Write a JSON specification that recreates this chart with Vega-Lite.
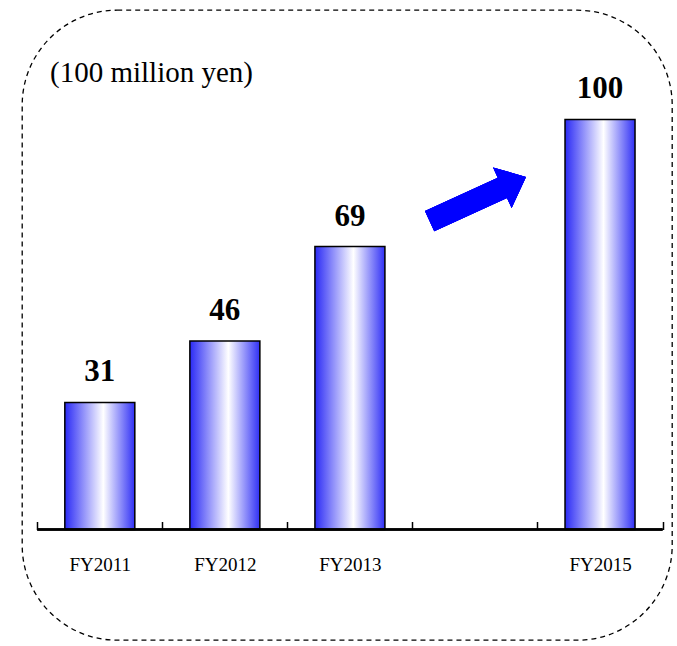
{
  "$schema": "https://vega.github.io/schema/vega-lite/v6.json",
  "width": 650,
  "height": 630,
  "autosize": {"type": "none"},
  "padding": {"left": 22, "top": 10, "right": 5, "bottom": 6},
  "background": "white",
  "config": {
    "view": {"stroke": "#000000", "strokeWidth": 1.3, "strokeDash": [5, 4], "cornerRadius": 95, "fill": "white"},
    "font": "Liberation Serif",
    "title": {"font": "Liberation Serif", "fontWeight": "normal"}
  },
  "title": {
    "text": "(100 million yen)",
    "anchor": "start",
    "frame": "group",
    "orient": "top",
    "baseline": "alphabetic",
    "offset": -101,
    "dx": 28,
    "font": "Liberation Serif",
    "fontSize": 29,
    "fontWeight": "normal",
    "color": "#000000"
  },
  "data": {
    "values": [
      {"year": 2011, "sales": 31},
      {"year": 2012, "sales": 46},
      {"year": 2013, "sales": 69},
      {"year": 2015, "sales": 100}
    ]
  },
  "resolve": {"axis": {"x": "independent"}},
  "layer": [
    {
      "mark": {
        "type": "bar",
        "size": 70,
        "stroke": "#000000",
        "strokeWidth": 1.5,
        "fill": {
          "gradient": "linear",
          "x1": 0, "x2": 1, "y1": 0, "y2": 0,
          "stops": [
            {"offset": 0, "color": "#2a2af5"},
            {"offset": 0.55, "color": "#ffffff"},
            {"offset": 1, "color": "#3030f5"}
          ]
        }
      },
      "encoding": {
        "x": {
          "field": "year",
          "type": "quantitative",
          "scale": {"domain": [2010.3777, 2015.5756], "nice": false, "zero": false, "padding": 0},
          "axis": {
            "orient": "bottom",
            "values": [2011, 2012, 2013, 2015],
            "labelExpr": "'FY' + datum.value",
            "title": null,
            "domain": false,
            "ticks": false,
            "grid": false,
            "offset": -110.5,
            "labelPadding": 41,
            "labelBaseline": "alphabetic",
            "labelFont": "Liberation Serif",
            "labelFontSize": 19,
            "labelColor": "#000000",
            "labelFlush": false
          }
        },
        "y": {
          "field": "sales",
          "type": "quantitative",
          "scale": {"domain": [-26.95, 126.7], "nice": false, "zero": false},
          "axis": null
        },
        "y2": {"datum": 0}
      }
    },
    {
      "mark": {"type": "rule", "color": "#000000", "strokeWidth": 2},
      "encoding": {
        "x": {
          "datum": 2010.5,
          "type": "quantitative",
          "axis": {
            "orient": "bottom",
            "values": [2010.5, 2011.5, 2012.5, 2013.5, 2014.5, 2015.5],
            "title": null,
            "labels": false,
            "domain": false,
            "grid": false,
            "ticks": true,
            "tickSize": -8,
            "tickWidth": 1.5,
            "tickColor": "#000000",
            "offset": -110.5
          }
        },
        "x2": {"datum": 2015.5},
        "y": {"datum": 0}
      }
    },
    {
      "mark": {
        "type": "text",
        "font": "Liberation Serif",
        "fontSize": 31,
        "fontWeight": "bold",
        "baseline": "alphabetic",
        "align": "center",
        "dy": -21,
        "color": "#000000"
      },
      "encoding": {
        "x": {"field": "year", "type": "quantitative", "axis": null},
        "y": {"field": "sales", "type": "quantitative"},
        "text": {"field": "sales", "type": "quantitative"}
      }
    },
    {
      "mark": {
        "type": "point",
        "shape": "M -1 -0.21 L 0.51 -0.21 L 0.51 -0.42 L 1 0 L 0.51 0.42 L 0.51 0.21 L -1 0.21 Z",
        "size": 11236,
        "angle": -24.6,
        "filled": true,
        "color": "#0000ff",
        "opacity": 1,
        "strokeWidth": 0
      },
      "encoding": {
        "x": {"datum": 2014.0226, "type": "quantitative", "axis": null},
        "y": {"datum": 80.6, "type": "quantitative"}
      }
    }
  ]
}
